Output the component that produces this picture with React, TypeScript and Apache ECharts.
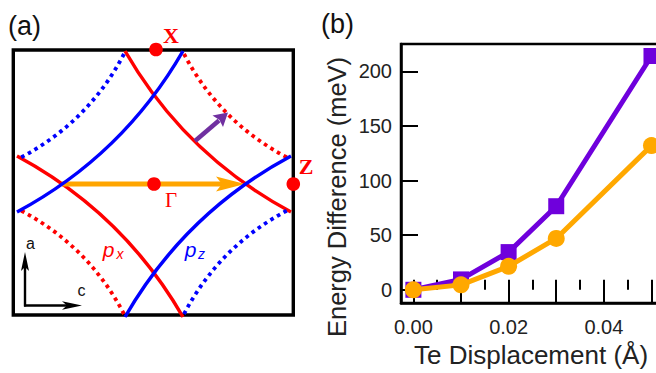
import React, { useEffect, useRef } from "react";
import * as echarts from "echarts";

// ---- Panel (b) data ----
const displacement = [0.0, 0.01, 0.02, 0.03, 0.05];
const purpleEnergy = [0, 9.5, 34.5, 76.5, 214];
const orangeEnergy = [0, 4.5, 21.5, 47, 132];
const xLabelValues = [0, 0.02, 0.04];
const yLabelValues = [0, 50, 100, 150, 200];

const PURPLE = "#6f00dc";
const ORANGE = "#ffa800";
const RED = "#ff0000";
const BLUE = "#0000ff";
const SANS = "'Liberation Sans', Arial, sans-serif";
const SERIF = "'Liberation Serif', 'Times New Roman', serif";

// ---- Panel (a) schematic geometry (relative to Γ) ----
const CX = 154;
const CY = 184;
type P = [number, number];
const redSolid: [P, P, P][] = [
  [[-29, -133], [31, -29], [137, 28]],
  [[29, 133], [-31, 29], [-137, -28]],
];
const blueSolid: [P, P, P][] = [
  [[29, -133], [-31, -29], [-137, 28]],
  [[-29, 133], [31, 29], [137, -28]],
];
const redDotted: [P, P, P][] = [
  [[30, -130], [66, -61], [136, -25]],
  [[-30, 130], [-66, 61], [-136, 25]],
];
const blueDotted: [P, P, P][] = [
  [[-30, -130], [-66, -61], [-136, -25]],
  [[30, 130], [66, 61], [136, 25]],
];

function curve(c: [P, P, P], color: string, dotted: boolean, z: number) {
  const [p0, cp, p2] = c;
  return {
    type: "bezierCurve",
    silent: true,
    z,
    shape: {
      x1: CX + p0[0],
      y1: CY + p0[1],
      cpx1: CX + cp[0],
      cpy1: CY + cp[1],
      x2: CX + p2[0],
      y2: CY + p2[1],
    },
    style: {
      stroke: color,
      fill: null,
      lineWidth: dotted ? 3.8 : 3.5,
      lineDash: dotted ? [3.6, 4] : null,
      lineCap: "butt",
    },
  };
}

function text(t: string, x: number, y: number, font: any, z = 20, rotation = 0) {
  return {
    type: "text",
    silent: true,
    z,
    x,
    y,
    rotation,
    style: {
      text: t,
      x: 0,
      y: 0,
      align: "center",
      verticalAlign: "middle",
      ...font,
    },
  };
}

function buildGraphic() {
  const g: any[] = [];
  // frame
  g.push({
    type: "rect",
    silent: true,
    z: 1,
    shape: { x: 13.3, y: 50, width: 280, height: 265 },
    style: { fill: null, stroke: "#000", lineWidth: 3.4 },
  });
  redSolid.forEach((c) => g.push(curve(c, RED, false, 3)));
  redDotted.forEach((c) => g.push(curve(c, RED, true, 3)));
  // orange arrow
  g.push({
    type: "line",
    silent: true,
    z: 4,
    shape: { x1: 62, y1: CY, x2: 226, y2: CY },
    style: { stroke: "#ffa500", lineWidth: 5 },
  });
  g.push({
    type: "polygon",
    silent: true,
    z: 4,
    shape: { points: [[216, 176.5], [245, CY], [216, 191.5], [222, CY]] },
    style: { fill: "#ffa500" },
  });
  blueSolid.forEach((c) => g.push(curve(c, BLUE, false, 5)));
  blueDotted.forEach((c) => g.push(curve(c, BLUE, true, 5)));
  // purple arrow
  g.push({
    type: "line",
    silent: true,
    z: 6,
    shape: { x1: 195, y1: 141, x2: 219, y2: 120.5 },
    style: { stroke: "#7030a0", lineWidth: 4.5 },
  });
  g.push({
    type: "polygon",
    silent: true,
    z: 6,
    shape: { points: [[228, 112.5], [223, 127], [219.5, 120], [212.5, 115.5]] },
    style: { fill: "#7030a0" },
  });
  // high-symmetry points
  [
    [156, 49.5],
    [154, 184],
    [293.3, 184],
  ].forEach(([x, y]) =>
    g.push({
      type: "circle",
      silent: true,
      z: 8,
      shape: { cx: x, cy: y, r: 6.8 },
      style: { fill: RED },
    })
  );
  g.push(text("X", 171, 35, { fill: RED, fontSize: 22, fontWeight: "bold", fontFamily: SERIF }));
  g.push(text("Z", 306, 166, { fill: RED, fontSize: 22, fontWeight: "bold", fontFamily: SERIF }));
  g.push(text("Γ", 171, 200, { fill: RED, fontSize: 21, fontFamily: SERIF }));
  // p_x and p_z labels
  g.push(text("p", 108.5, 249, { fill: RED, fontSize: 21, fontStyle: "italic", fontFamily: SANS }));
  g.push(text("x", 120, 253.5, { fill: RED, fontSize: 14, fontStyle: "italic", fontFamily: SANS }));
  g.push(text("p", 190.5, 249, { fill: BLUE, fontSize: 21, fontStyle: "italic", fontFamily: SANS }));
  g.push(text("z", 201.5, 253.5, { fill: BLUE, fontSize: 14, fontStyle: "italic", fontFamily: SANS }));
  // a/c axes
  g.push({
    type: "line",
    silent: true,
    z: 6,
    shape: { x1: 25, y1: 306.5, x2: 25, y2: 262 },
    style: { stroke: "#000", lineWidth: 2.4 },
  });
  g.push({
    type: "polygon",
    silent: true,
    z: 6,
    shape: { points: [[25, 252], [29, 271], [25, 267], [21, 271]] },
    style: { fill: "#000" },
  });
  g.push({
    type: "line",
    silent: true,
    z: 6,
    shape: { x1: 24, y1: 305.5, x2: 72, y2: 305.5 },
    style: { stroke: "#000", lineWidth: 2.4 },
  });
  g.push({
    type: "polygon",
    silent: true,
    z: 6,
    shape: { points: [[82, 305.5], [62, 301.3], [67, 305.5], [62, 309.7]] },
    style: { fill: "#000" },
  });
  g.push(text("a", 30.5, 243, { fill: "#111", fontSize: 16, fontFamily: SANS }));
  g.push(text("c", 81.5, 290, { fill: "#111", fontSize: 16, fontFamily: SANS }));
  // panel letters
  g.push(text("(a)", 24.5, 25.5, { fill: "#111", fontSize: 27, fontFamily: SANS }));
  g.push(text("(b)", 337.5, 24, { fill: "#111", fontSize: 27, fontFamily: SANS }));
  // y axis title (placed to match the reference, which is not centred on the axis)
  g.push(
    text(
      "Energy Difference (meV)",
      337,
      197,
      { fill: "#222", fontSize: 25.5, fontFamily: SANS },
      20,
      Math.PI / 2
    )
  );
  return g;
}

function isOneOf(v: number, list: number[]) {
  return list.some((t) => Math.abs(t - v) < 1e-9);
}

export default function App() {
  const ref = useRef<HTMLDivElement>(null);
  useEffect(() => {
    if (!ref.current) return;
    const chart = echarts.init(ref.current, null, { renderer: "svg" });
    const xMin = -0.0026;
    const xMax = 0.052;
    chart.setOption({
      animation: false,
      backgroundColor: "#fff",
      textStyle: { fontFamily: SANS },
      grid: {
        left: 401,
        top: 44,
        width: 260,
        height: 262.7,
        show: true,
        borderColor: "#000",
        borderWidth: 2.5,
      },
      xAxis: [
        {
          type: "value",
          min: xMin,
          max: xMax,
          splitNumber: 5,
          position: "bottom",
          axisLine: { show: true, onZero: false, lineStyle: { color: "#000", width: 2.5 } },
          axisTick: { show: true, inside: true, length: 18, lineStyle: { color: "#000", width: 2 } },
          splitLine: { show: false },
          axisLabel: {
            show: true,
            margin: 14,
            fontSize: 20,
            color: "#222",
            fontFamily: SANS,
            formatter: (v: number) => (isOneOf(v, xLabelValues) ? v.toFixed(2) : ""),
          },
          name: "Te Displacement (Å)",
          nameLocation: "middle",
          nameGap: 39,
          nameTextStyle: { fontSize: 26, color: "#222", fontFamily: SANS },
        },
        {
          type: "value",
          min: xMin,
          max: xMax,
          splitNumber: 10,
          position: "bottom",
          axisLine: { show: false },
          axisTick: { show: true, inside: true, length: 10, lineStyle: { color: "#000", width: 2 } },
          splitLine: { show: false },
          axisLabel: { show: false },
        },
      ],
      yAxis: {
        type: "value",
        min: -12.1,
        max: 225,
        splitNumber: 5,
        axisLine: { show: true, onZero: false, lineStyle: { color: "#000", width: 2.5 } },
        axisTick: { show: true, inside: true, length: 17, lineStyle: { color: "#000", width: 2 } },
        splitLine: { show: false },
        axisLabel: {
          margin: 9,
          fontSize: 20,
          color: "#222",
          fontFamily: SANS,
          formatter: (v: number) => (isOneOf(v, yLabelValues) ? String(Math.round(v)) : ""),
        },
      },
      series: [
        {
          type: "line",
          xAxisIndex: 0,
          yAxisIndex: 0,
          data: displacement.map((x, i) => [x, purpleEnergy[i]]),
          symbol: "rect",
          symbolSize: 16,
          lineStyle: { width: 5, color: PURPLE },
          itemStyle: { color: PURPLE },
          z: 3,
          clip: false,
        },
        {
          type: "line",
          xAxisIndex: 0,
          yAxisIndex: 0,
          data: displacement.map((x, i) => [x, orangeEnergy[i]]),
          symbol: "circle",
          symbolSize: 17,
          lineStyle: { width: 5, color: ORANGE },
          itemStyle: { color: ORANGE },
          z: 4,
          clip: false,
        },
      ],
      graphic: buildGraphic(),
    });
    return () => chart.dispose();
  }, []);
  return (
    <div
      style={{
        position: "fixed",
        left: 0,
        top: 0,
        width: 656,
        height: 373,
        overflow: "hidden",
        background: "#fff",
      }}
    >
      <div ref={ref} style={{ width: 700, height: 373 }} />
    </div>
  );
}
